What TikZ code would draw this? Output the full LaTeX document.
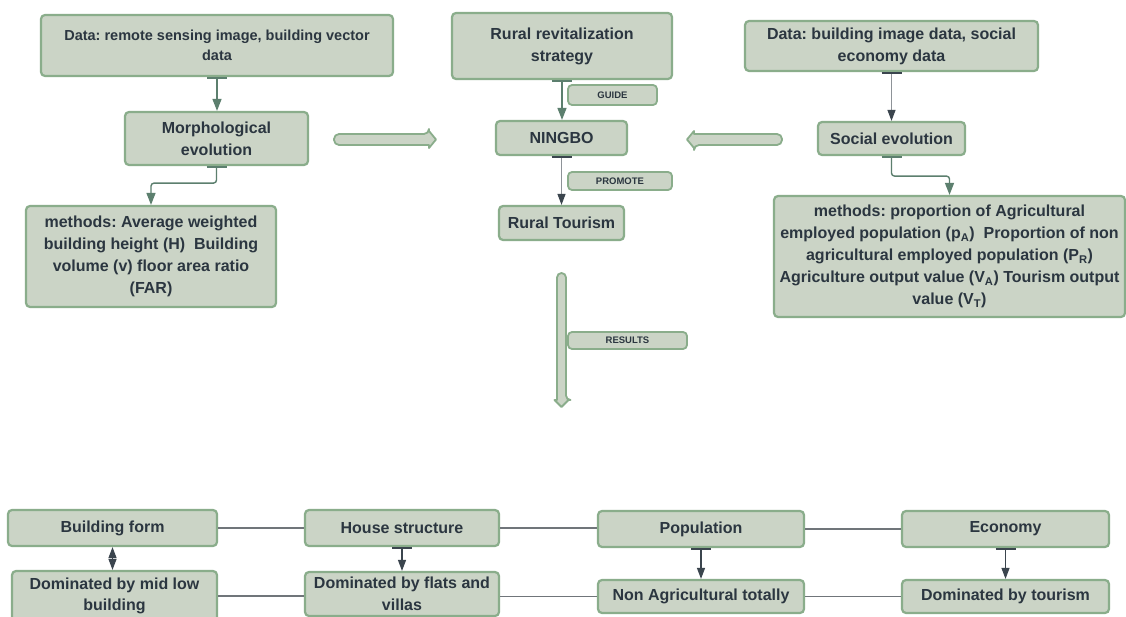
\documentclass[tikz,border=0pt]{standalone}
\usepackage{fontspec}
\setmainfont{Liberation Sans}
\usetikzlibrary{arrows.meta}
\definecolor{boxfill}{HTML}{CBD4C6}
\definecolor{boxdraw}{HTML}{8AAD8B}
\definecolor{txt}{HTML}{2B3640}
\definecolor{arrg}{HTML}{5C7F6E}
\definecolor{lgray}{HTML}{8E9398}
\definecolor{dgray}{HTML}{3B454E}
\definecolor{hline}{HTML}{70757A}
\frenchspacing
\begin{document}
\begin{tikzpicture}[x=1pt,y=-1pt,
 box/.style={draw=boxdraw, fill=boxfill, line width=2.2pt, rounded corners=4pt, text=txt, align=center, inner sep=0pt, font=\bfseries\fontsize{16}{22}\selectfont},
 tag/.style={draw=boxdraw, fill=boxfill, line width=1.8pt, rounded corners=4pt, text=txt, inner sep=0pt, font=\bfseries\fontsize{9.5}{11}\selectfont},
 greenarrow/.style={draw=arrg, line width=1.4pt, {Bar[width=20pt,line width=1.8pt]}-{Triangle[width=9pt,length=12pt]}},
 grayarrow/.style={draw=lgray, line width=1.2pt, {Bar[width=20pt,line width=1.8pt,color=dgray]}-{Triangle[width=8pt,length=11pt,color=dgray]}},
 hollow/.style={draw=boxdraw, fill=boxfill, line width=1.8pt, line join=round},
 link/.style={draw=hline, line width=1.2pt},
]
\useasboundingbox[fill=white] (0,0) rectangle (1126,617);

% top left column
\node[box, minimum width=352pt, minimum height=61pt, font=\bfseries\fontsize{14.5}{20}\selectfont] (dataL) at (217,45.5) {Data: remote sensing image, building vector\\data};
\node[box, minimum width=183pt, minimum height=53pt] (morph) at (216.5,138.5) {Morphological\\evolution};
\node[box, minimum width=250pt, minimum height=101pt] (methL) at (151,256.5) {methods: Average weighted\\building height (H)\ \ Building\\volume (v) floor area ratio\\(FAR)};

% centre column
\node[box, minimum width=220pt, minimum height=66pt] (rural) at (562,46) {Rural revitalization\\strategy};
\node[tag, minimum width=89pt, minimum height=20pt] (guide) at (612.5,95) {GUIDE};
\node[box, minimum width=131pt, minimum height=34pt] (ningbo) at (561.5,138) {NINGBO};
\node[tag, minimum width=104pt, minimum height=18pt] (promote) at (620,181) {PROMOTE};
\node[box, minimum width=125pt, minimum height=34pt] (tourism) at (561.5,223) {Rural Tourism};
\node[tag, minimum width=119pt, minimum height=17pt] (results) at (627.5,340.5) {RESULTS};

% right column
\node[box, minimum width=293pt, minimum height=50pt] (dataR) at (891.5,46) {Data: building image data, social\\economy data};
\node[box, minimum width=147pt, minimum height=33pt] (social) at (891.5,138.5) {Social evolution};
\node[box, minimum width=351pt, minimum height=121pt] (methR) at (949.5,256.5) {methods: proportion of Agricultural\\employed population (p\textsubscript{A})\ \ Proportion of non\\agricultural employed population (P\textsubscript{R})\\Agriculture output value (V\textsubscript{A}) Tourism output\\value (V\textsubscript{T})};

% bottom rows
\node[box, minimum width=209pt, minimum height=36pt] (bform) at (112.5,528) {Building form};
\node[box, minimum width=194pt, minimum height=36pt] (house) at (402,528) {House structure};
\node[box, minimum width=206pt, minimum height=36pt] (popu) at (701,529) {Population};
\node[box, minimum width=207pt, minimum height=36pt] (econ) at (1005.5,529) {Economy};
\node[box, minimum width=205pt, minimum height=50pt, font=\bfseries\fontsize{16}{21}\selectfont] (midlow) at (114.5,596) {Dominated by mid low\\building};
\node[box, minimum width=194pt, minimum height=44pt, font=\bfseries\fontsize{16}{22}\selectfont] (flats) at (402,594) {Dominated by flats and\\villas};
\node[box, minimum width=206pt, minimum height=33pt] (nonag) at (701,596.5) {Non Agricultural totally};
\node[box, minimum width=207pt, minimum height=33pt] (domtour) at (1005.5,596.5) {Dominated by tourism};

% connectors top
\draw[greenarrow] (dataL.south) -- (morph.north -| dataL.south);
\draw[greenarrow, rounded corners=3pt] (morph.south) -- ++(0,17) -| (methL.north);
\draw[greenarrow] (rural.south) -- (ningbo.north -| rural.south);
\draw[grayarrow] (ningbo.south) -- (tourism.north -| ningbo.south);
\draw[grayarrow] (dataR.south) -- (social.north);
\draw[greenarrow, rounded corners=3pt] (social.south) -- ++(0,20) -| (methR.north);

% hollow arrows
\draw[hollow] (429,148) -- (429,145) [rounded corners=5pt] -- (334,145) -- (334,134) -- (429,134) [sharp corners] -- (429,131) -- (436,139.5) -- cycle;
\draw[hollow] (694,131) -- (694,134) [rounded corners=5pt] -- (782,134) -- (782,145) -- (694,145) [sharp corners] -- (694,148) -- (687,139.5) -- cycle;
\draw[hollow] (554.5,400) -- (557,400) [rounded corners=4.5pt] -- (557,273) -- (566,273) -- (566,400) [sharp corners] -- (568.5,400) -- (561.5,407) -- cycle;

% connectors bottom
\draw[link] (bform.east) -- (house.west);
\draw[link] (house.east) -- (popu.west |- house.east);
\draw[link] (popu.east) -- (econ.west);
\draw[link] (midlow.east) -- (flats.west |- midlow.east);
\draw[link] (flats.east |- nonag.west) -- (nonag.west);
\draw[link] (nonag.east) -- (domtour.west);
\draw[dgray, line width=1.2pt, {Triangle[width=8pt,length=11pt]}-{Triangle[width=8pt,length=11pt]}] (bform.south) -- (midlow.north -| bform.south);
\draw[grayarrow, draw=dgray] (house.south) -- (flats.north);
\draw[grayarrow, draw=dgray] (popu.south) -- (nonag.north);
\draw[grayarrow, draw=dgray] (econ.south) -- (domtour.north);
\end{tikzpicture}
\end{document}
